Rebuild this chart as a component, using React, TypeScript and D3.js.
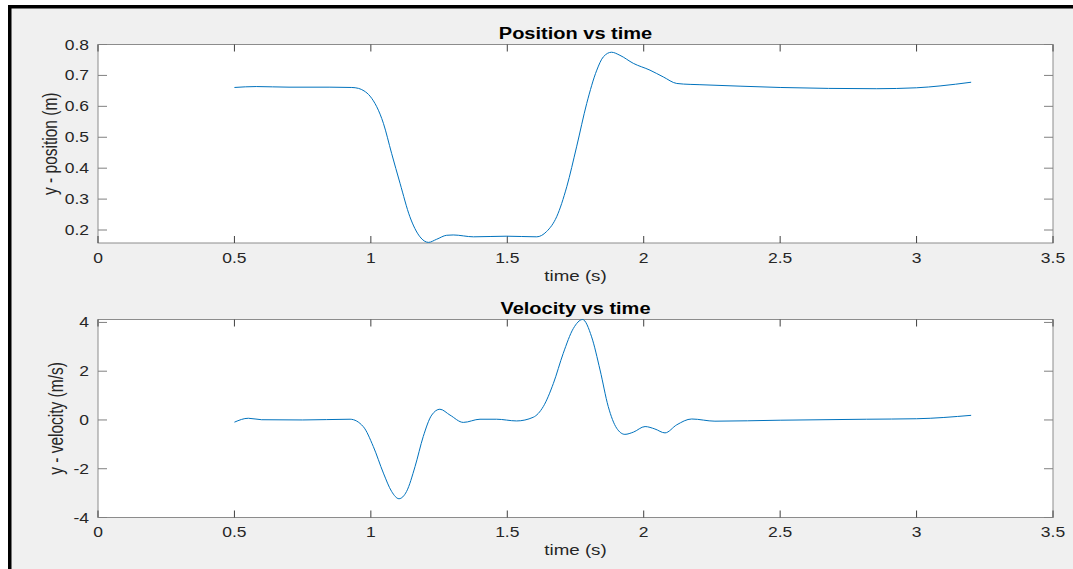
import React, { useEffect, useRef } from "react";
import * as d3 from "d3";

// values
const posTime = [
  0.5, 0.58, 0.7, 0.85, 0.93, 0.955, 0.975, 0.997, 1.046, 1.076, 1.107, 1.143, 1.18, 1.211,
  1.241, 1.278, 1.302, 1.376, 1.498, 1.608, 1.644, 1.681, 1.718, 1.754, 1.791, 1.828,
  1.852, 1.882, 1.913, 1.962, 2.023, 2.072, 2.121, 2.17, 2.206, 2.5, 2.854, 3.0, 3.086, 3.2,
];
const posValues = [
  0.661, 0.664, 0.662, 0.662, 0.661, 0.658, 0.65, 0.633, 0.545, 0.448, 0.351, 0.243, 0.178, 0.16,
  0.17, 0.183, 0.184, 0.178, 0.18, 0.178, 0.195, 0.243, 0.34, 0.469, 0.609, 0.717,
  0.76, 0.775, 0.765, 0.739, 0.717, 0.695, 0.674, 0.671, 0.67, 0.661, 0.657, 0.66, 0.666, 0.678,
];

const velTime = [
  0.5, 0.551, 0.6, 0.75, 0.924, 0.972, 1.009, 1.046, 1.076, 1.103, 1.131, 1.162, 1.192,
  1.223, 1.253, 1.29, 1.339, 1.4, 1.461, 1.534, 1.595, 1.632, 1.669, 1.705, 1.742, 1.776,
  1.809, 1.84, 1.87, 1.901, 1.931, 1.962, 2.005, 2.041, 2.078, 2.121, 2.176, 2.261, 2.5,
  2.817, 3.0, 3.2,
];
const velValues = [
  -0.09, 0.07, 0.01, 0.0, 0.03, -0.27, -1.09, -2.18, -2.93, -3.23, -2.93, -1.91, -0.68,
  0.2, 0.44, 0.2, -0.1, 0.03, 0.03, -0.04, 0.11, 0.55, 1.5, 2.73, 3.75, 4.12,
  3.41, 2.05, 0.55, -0.34, -0.59, -0.5, -0.27, -0.37, -0.53, -0.2, 0.04, -0.05, -0.01,
  0.03, 0.05, 0.19,
];

const xTicks = [0, 0.5, 1, 1.5, 2, 2.5, 3, 3.5];
const posTicks = [0.2, 0.3, 0.4, 0.5, 0.6, 0.7, 0.8];
const velTicks = [-4, -2, 0, 2, 4];

const FONT = '"Liberation Sans", Arial, Helvetica, sans-serif';
const SX = 1.25; // the reference text is stretched sideways

const addText = (g, x, y, str, opts: any = {}) => {
  const t = g
    .append("text")
    .attr("transform", `translate(${x},${y}) scale(${SX},1)${opts.rotate ? " rotate(-90)" : ""}`)
    .attr("font-family", FONT)
    .attr("font-size", opts.size || 14)
    .attr("font-weight", opts.bold ? "bold" : "normal")
    .attr("fill", opts.color || "#262626")
    .attr("text-anchor", opts.anchor || "middle")
    .text(str);
  if (opts.dy) t.attr("dy", opts.dy);
  return t;
};

const drawPanel = (svg, p) => {
  const left = 98;
  const right = 1053;
  const x = d3.scaleLinear().domain([0, 3.5]).range([left, right]);
  const y = d3.scaleLinear().domain(p.yDomain).range([p.bottom, p.top]);
  const g = svg.append("g");

  g.append("rect")
    .attr("x", left)
    .attr("y", p.top)
    .attr("width", right - left)
    .attr("height", p.bottom - p.top)
    .attr("fill", "#ffffff")
    .attr("stroke", "#8c8c8c")
    .attr("stroke-width", 1);

  // ticks on all four sides, pointing in
  xTicks.forEach((d) => {
    g.append("line")
      .attr("x1", x(d)).attr("x2", x(d))
      .attr("y1", p.bottom).attr("y2", p.bottom - 7)
      .attr("stroke", "#404040");
    g.append("line")
      .attr("x1", x(d)).attr("x2", x(d))
      .attr("y1", p.top).attr("y2", p.top + 7)
      .attr("stroke", "#404040");
    addText(g, x(d), p.bottom + 19.5, String(d));
  });
  p.yTicks.forEach((d) => {
    g.append("line")
      .attr("x1", left).attr("x2", left + 9)
      .attr("y1", y(d)).attr("y2", y(d))
      .attr("stroke", "#808080");
    g.append("line")
      .attr("x1", right).attr("x2", right - 9)
      .attr("y1", y(d)).attr("y2", y(d))
      .attr("stroke", "#808080");
    addText(g, left - 9, y(d), String(d), { anchor: "end", dy: "0.36em" });
  });

  const line = d3
    .line<number>()
    .x((d, i) => x(p.time[i]))
    .y((d) => y(d))
    .curve(d3.curveMonotoneX);

  g.append("path")
    .datum(p.values)
    .attr("d", line)
    .attr("fill", "none")
    .attr("stroke", "#0072bd")
    .attr("stroke-width", 1);

  addText(g, (left + right) / 2, p.top - 5.5, p.title, { size: 16, bold: true, color: "#000" });
  addText(g, (left + right) / 2, p.bottom + 37.5, "time (s)", { size: 15 });
  addText(g, p.labelX, (p.top + p.bottom) / 2, p.ylabel, { size: 15.5, rotate: true });
};

const App = () => {
  const svgRef = useRef(null);

  useEffect(() => {
    const svg = d3.select(svgRef.current);
    svg.selectAll("*").remove();

    svg.append("rect").attr("width", 1073).attr("height", 569).attr("fill", "#ffffff");
    svg.append("rect")
      .attr("x", 8).attr("y", 5).attr("width", 1073).attr("height", 569)
      .attr("fill", "#f0f0f0");
    svg.append("rect").attr("x", 8).attr("y", 5).attr("width", 1065).attr("height", 3.5).attr("fill", "#000");
    svg.append("rect").attr("x", 8).attr("y", 5).attr("width", 3.5).attr("height", 564).attr("fill", "#000");

    drawPanel(svg, {
      top: 44.5,
      bottom: 243,
      yDomain: [0.158, 0.8],
      yTicks: posTicks,
      time: posTime,
      values: posValues,
      title: "Position vs time",
      ylabel: "y - position (m)",
      labelX: 57,
    });
    drawPanel(svg, {
      top: 319.5,
      bottom: 517.5,
      yDomain: [-4, 4.12],
      yTicks: velTicks,
      time: velTime,
      values: velValues,
      title: "Velocity vs time",
      ylabel: "y - velocity (m/s)",
      labelX: 63,
    });
  }, []);

  return (
    <svg
      ref={svgRef}
      width={1073}
      height={569}
      style={{ position: "absolute", left: 0, top: 0 }}
    ></svg>
  );
};

export default App;
